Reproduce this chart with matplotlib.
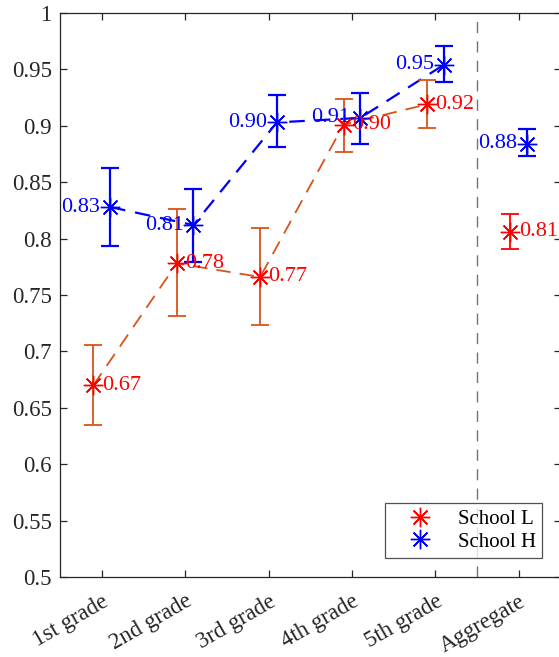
import matplotlib
matplotlib.use("Agg")
import matplotlib.pyplot as plt
import numpy as np

plt.rcParams['font.family'] = ['Liberation Serif', 'DejaVu Serif']

grades = ['1st grade', '2nd grade', '3rd grade', '4th grade', '5th grade', 'Aggregate']

# School L: mean accuracy with lower / upper error bar ends
school_l = [0.670, 0.778, 0.766, 0.901, 0.919, 0.806]
school_l_lo = [0.635, 0.731, 0.723, 0.877, 0.898, 0.791]
school_l_hi = [0.706, 0.826, 0.809, 0.924, 0.941, 0.822]

# School H
school_h = [0.828, 0.812, 0.903, 0.907, 0.954, 0.884]
school_h_lo = [0.793, 0.779, 0.881, 0.884, 0.939, 0.873]
school_h_hi = [0.863, 0.844, 0.927, 0.929, 0.971, 0.897]

RED = '#FF0000'
ORANGE = '#D95319'
BLUE = '#0000FF'

fig = plt.figure(figsize=(5.59, 6.57), dpi=100)
ax = fig.add_axes([60/559, 80/657, 500.5/559, 564/657])

x = np.arange(1, len(grades) + 1)
xl = x - 0.1
xh = x + 0.1
yl = np.array(school_l)
yh = np.array(school_h)
err_l = [yl - np.array(school_l_lo), np.array(school_l_hi) - yl]
err_h = [yh - np.array(school_h_lo), np.array(school_h_hi) - yh]

ast = (8, 2, 0)

# trend lines over the five grades (aggregate left unconnected)
ax.plot(xl[:5], yl[:5], color=ORANGE, lw=1.3, dashes=(8, 5), zorder=2)
ax.plot(xh[:5], yh[:5], color=BLUE, lw=1.6, dashes=(7, 4.5), zorder=2)

ax.errorbar(xl[:5], yl[:5], yerr=[e[:5] for e in err_l], fmt='none',
            ecolor=ORANGE, elinewidth=1.3, capsize=6.5, capthick=1.3, zorder=3)
ax.errorbar(xl[5:], yl[5:], yerr=[e[5:] for e in err_l], fmt='none',
            ecolor=RED, elinewidth=1.3, capsize=6.5, capthick=1.3, zorder=3)
ax.errorbar(xh, yh, yerr=err_h, fmt='none',
            ecolor=BLUE, elinewidth=1.6, capsize=6.5, capthick=1.6, zorder=3)

ax.plot(xl, yl, linestyle='none', marker=ast, ms=14, mew=1.0,
        color=RED, label='School L', zorder=4)
ax.plot(xh, yh, linestyle='none', marker=ast, ms=14, mew=1.0,
        color=BLUE, label='School H', zorder=4)

for xi, yi in zip(xl, yl):
    ax.annotate(f'{yi:.2f}', (xi, yi), xytext=(6, 0), textcoords='offset points',
                ha='left', va='center', color=RED, fontsize=16, zorder=5)
for xi, yi in zip(xh, yh):
    ax.annotate(f'{yi:.2f}', (xi, yi), xytext=(-7, 0), textcoords='offset points',
                ha='right', va='center', color=BLUE, fontsize=16, zorder=5)

# separator between grades and aggregate
ax.axvline(5.5, color='0.45', lw=1.0, dashes=(8, 6), zorder=1)

ax.set_xlim(0.5, 6.5)
ax.set_ylim(0.5, 1.0)
ax.set_xticks(x)
ax.set_xticklabels(grades, rotation=30, ha='right', rotation_mode='anchor')
yt = np.round(np.arange(0.5, 1.001, 0.05), 2)
ax.set_yticks(yt)
ax.set_yticklabels([f'{v:g}' for v in yt])

for s in ax.spines.values():
    s.set_color('0.15')
    s.set_linewidth(0.9)
ax.tick_params(direction='in', length=5, width=0.9, color='0.15',
               labelsize=16.5, labelcolor='0.15', top=True, right=True, pad=6)
ax.tick_params(axis='x', pad=10)

leg = ax.legend(loc='lower right', bbox_to_anchor=(0.963, 0.034), borderaxespad=0,
                fontsize=15, frameon=True, fancybox=False, edgecolor='0.15',
                handlelength=2.8, handletextpad=0.4, borderpad=0.3,
                labelspacing=0.15, markerscale=1.0)
leg.get_frame().set_linewidth(0.9)

fig.savefig('out.png', dpi=100)
